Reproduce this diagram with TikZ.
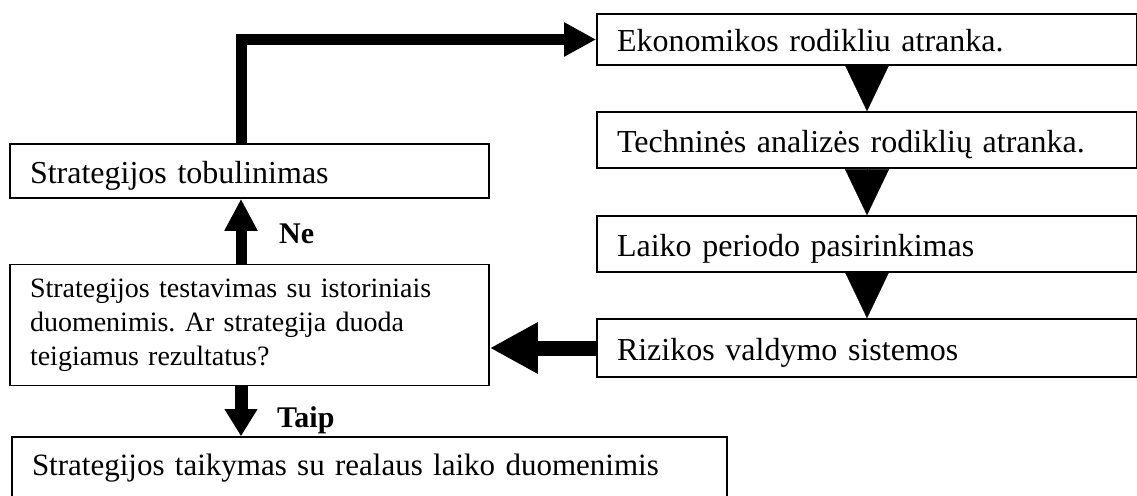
\documentclass[tikz,border=0pt]{standalone}
\usepackage{fontspec}
\setmainfont{Liberation Serif}
\usetikzlibrary{arrows.meta}
\frenchspacing

\tikzset{
    box/.style={draw, line width=1.6pt, rectangle, align=left, inner xsep=20pt, inner ysep=0pt},
    onerow/.style={text height=25pt, text depth=0pt},
    big/.style={font=\fontsize{32pt}{38pt}\selectfont},
    small/.style={font=\fontsize{28pt}{34pt}\selectfont},
    lab/.style={font=\bfseries\fontsize{30pt}{36pt}\selectfont, inner sep=0pt, anchor=base west},
    drop/.style={line width=0.2pt, -{Triangle[length=46pt,width=44pt]}},
    fat/.style={line width=#1}
}

\begin{document}
\begin{tikzpicture}[x=1pt, y=-1pt]
    \useasboundingbox (0,0) rectangle (1137,495);
    \coordinate (spine) at (241,0);

    \node[box, big, onerow, text width=500pt, minimum height=51pt] (ekon) at (867,39.5) {Ekonomikos rodikliu atranka.};
    \node[box, big, onerow, text width=500pt, minimum height=56pt] (tech) at (867,140) {Techninės analizės rodiklių atranka.};
    \node[box, big, onerow, text width=500pt, minimum height=56pt] (laik) at (867,244) {Laiko periodo pasirinkimas};
    \node[box, big, onerow, text width=500pt, minimum height=58pt] (rizi) at (867,348) {Rizikos valdymo sistemos};

    \node[box, big, onerow, text width=439pt, minimum height=54pt] (tobu) at (249.5,171) {Strategijos tobulinimas};
    \node[box, small, text width=439pt, minimum height=121pt] (test) at (249.5,325) {Strategijos testavimas su istoriniais\\duomenimis. Ar strategija duoda\\teigiamus rezultatus?};
    \node[box, big, font=\fontsize{31pt}{37pt}\selectfont, text width=675pt, minimum height=62pt] (taik) at (369.5,468) {Strategijos taikymas su realaus laiko duomenimis};

    \node[lab] (ne) at (279,243) {Ne};
    \node[lab] (taip) at (277,427) {Taip};

    \draw[drop] (ekon) -- (tech);
    \draw[drop] (tech) -- (laik);
    \draw[drop] (laik) -- (rizi);

    \draw[fat=11pt, -{Triangle[length=32pt,width=32pt]}] (tobu.north -| spine) |- (ekon.west);
    \draw[fat=11pt, -{Triangle[length=32pt,width=31pt]}] (test.north -| spine) -- (tobu.south -| spine);
    \draw[fat=13pt, -{Triangle[length=27pt,width=31pt]}] (test.south -| spine) -- (taik.north -| spine);
    \draw[fat=15pt, -{Triangle[length=48pt,width=48pt]}] (rizi.west) -- (rizi.west -| test.east);
\end{tikzpicture}
\end{document}
